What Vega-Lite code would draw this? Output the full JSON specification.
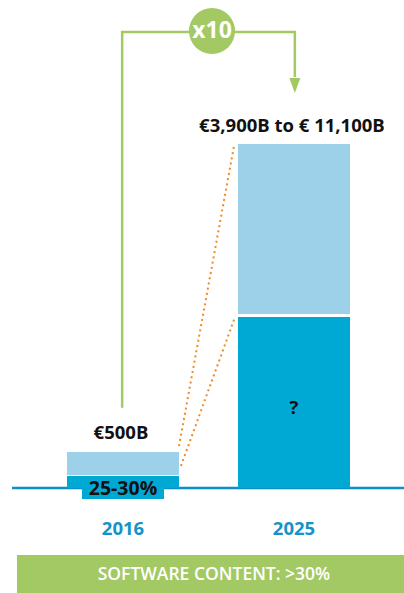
{
  "$schema": "https://vega.github.io/schema/vega-lite/v6.json",
  "width": 404,
  "height": 593,
  "autosize": {"type": "none"},
  "padding": 0,
  "background": "white",
  "data": {"values": [{"note": "annotation"}]},
  "config": {"view": {"stroke": null}, "axis": {"disable": true}},
  "encoding": {
    "x": {"type": "quantitative", "scale": {"domain": [0.2807, 2.6433], "nice": false, "zero": false, "padding": 0}, "axis": null},
    "y": {"type": "quantitative", "scale": {"domain": [-30.523, 141.86], "nice": false, "zero": false, "padding": 0}, "axis": null}
  },
  "layer": [
    {
      "mark": {"type": "rule", "color": "#0a8fc6", "strokeWidth": 2.5},
      "encoding": {"x": {"datum": 0.351}, "x2": {"datum": 2.6433}, "y": {"datum": 0}}
    },
    {
      "data": {"values": [
        {"year": "2016", "pos": 1, "segment": "software", "start": 0, "end": 3.5},
        {"year": "2016", "pos": 1, "segment": "other", "start": 3.8, "end": 10.5},
        {"year": "2025", "pos": 2, "segment": "software", "start": 0, "end": 49.7},
        {"year": "2025", "pos": 2, "segment": "other", "start": 50.6, "end": 100}
      ]},
      "mark": {"type": "bar", "width": 112},
      "encoding": {
        "x": {"field": "pos", "type": "quantitative"},
        "y": {"field": "start", "type": "quantitative"},
        "y2": {"field": "end"},
        "color": {"field": "segment", "type": "nominal", "scale": {"domain": ["software", "other"], "range": ["#00a8d4", "#9dd1ea"]}, "legend": null}
      }
    },
    {
      "mark": {"type": "bar", "width": 82, "color": "#00a8d4"},
      "encoding": {"x": {"datum": 1}, "y": {"datum": 3.5}, "y2": {"datum": -3.2}}
    },
    {
      "data": {"values": [
        {"link": "total", "px": 1.3275, "val": 12.2, "o": 0},
        {"link": "total", "px": 1.649, "val": 99.4, "o": 1},
        {"link": "software", "px": 1.339, "val": 6.4, "o": 0},
        {"link": "software", "px": 1.655, "val": 49.7, "o": 1}
      ]},
      "mark": {"type": "line", "color": "#f08a24", "strokeWidth": 2, "strokeDash": [2, 3.3]},
      "encoding": {
        "x": {"field": "px", "type": "quantitative"},
        "y": {"field": "val", "type": "quantitative"},
        "detail": {"field": "link"},
        "order": {"field": "o"}
      }
    },
    {
      "data": {"values": [
        {"px": 0.995, "val": 23.3, "o": 0},
        {"px": 0.995, "val": 132.56, "o": 1},
        {"px": 2.005, "val": 132.56, "o": 2},
        {"px": 2.005, "val": 119.5, "o": 3}
      ]},
      "mark": {"type": "line", "color": "#a3c964", "strokeWidth": 2.5, "strokeJoin": "miter", "strokeCap": "butt"},
      "encoding": {
        "x": {"field": "px", "type": "quantitative"},
        "y": {"field": "val", "type": "quantitative"},
        "order": {"field": "o"}
      }
    },
    {
      "mark": {"type": "point", "shape": "M-0.733,-1 L0.733,-1 L0,1 Z", "size": 225, "filled": true, "color": "#a3c964", "opacity": 1},
      "encoding": {"x": {"datum": 2.005}, "y": {"datum": 117.0}}
    },
    {
      "mark": {"type": "circle", "size": 2124, "color": "#a3c964", "opacity": 1},
      "encoding": {"x": {"datum": 1.5205}, "y": {"datum": 132.85}}
    },
    {
      "data": {"values": [{"label": "x10"}]},
      "mark": {"type": "text", "font": "Open Sans", "fontWeight": "bold", "fontSize": 23, "color": "white", "baseline": "middle"},
      "encoding": {"x": {"datum": 1.5205}, "y": {"datum": 132.85}, "text": {"field": "label"}}
    },
    {
      "data": {"values": [
        {"label": "€500B", "px": 0.988, "val": 16.0},
        {"label": "€3,900B to € 11,100B", "px": 1.988, "val": 105.2},
        {"label": "?", "px": 2.0, "val": 23.3}
      ]},
      "mark": {"type": "text", "font": "Open Sans", "fontWeight": "bold", "fontSize": 18.5, "color": "#111111", "baseline": "middle"},
      "encoding": {"x": {"field": "px", "type": "quantitative"}, "y": {"field": "val", "type": "quantitative"}, "text": {"field": "label"}}
    },
    {
      "data": {"values": [{"label": "25-30%", "px": 1.0, "val": -0.29}]},
      "mark": {"type": "text", "font": "Open Sans", "fontWeight": "bold", "fontSize": 19.5, "color": "#111111", "baseline": "middle"},
      "encoding": {"x": {"field": "px", "type": "quantitative"}, "y": {"field": "val", "type": "quantitative"}, "text": {"field": "label"}}
    },
    {
      "data": {"values": [
        {"year": "2016", "pos": 1},
        {"year": "2025", "pos": 2}
      ]},
      "mark": {"type": "text", "font": "Open Sans", "fontWeight": "bold", "fontSize": 18.5, "color": "#1593c8", "baseline": "middle"},
      "encoding": {"x": {"field": "pos", "type": "quantitative"}, "y": {"datum": -11.9}, "text": {"field": "year"}}
    },
    {
      "mark": {"type": "bar", "color": "#a3c964"},
      "encoding": {"x": {"datum": 0.380}, "x2": {"datum": 2.6433}, "y": {"datum": -19.48}, "y2": {"datum": -30.523}}
    },
    {
      "data": {"values": [{"label": "SOFTWARE CONTENT: >30%"}]},
      "mark": {"type": "text", "font": "Open Sans", "fontWeight": 600, "fontSize": 17.5, "color": "white", "baseline": "middle"},
      "encoding": {"x": {"datum": 1.532}, "y": {"datum": -25.3}, "text": {"field": "label"}}
    }
  ]
}
